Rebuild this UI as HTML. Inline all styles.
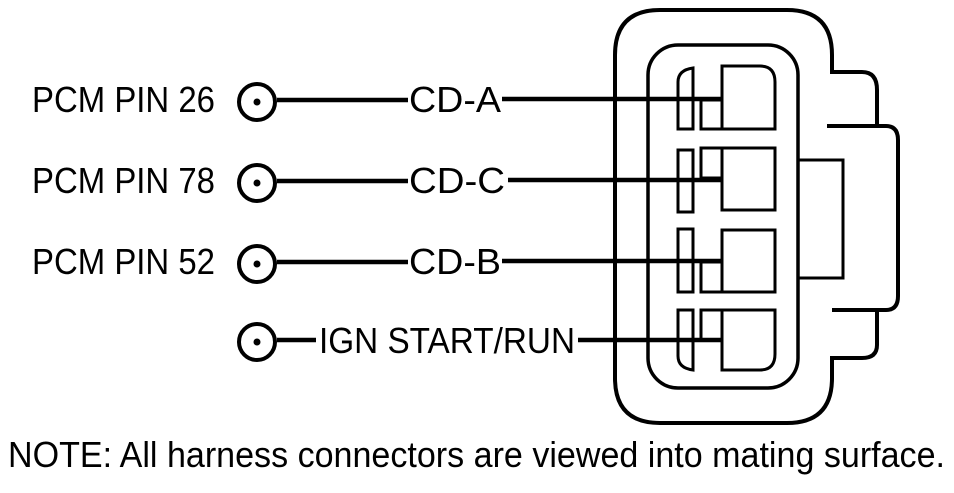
<!DOCTYPE html>
<html><head><meta charset="utf-8"><style>html,body{margin:0;padding:0;background:#fff}svg{display:block}</style></head>
<body>
<svg width="954" height="493" viewBox="0 0 954 493" xmlns="http://www.w3.org/2000/svg" font-family="Liberation Sans, Arial, sans-serif" fill="none" stroke="#000">
<path d="M660,10 H787 Q832,10 832,55 V72 H862 Q877,72 877,90 V126 H886 Q898,126 898,140 V296 Q898,310 886,310 H877 V345 Q877,358 862,358 H832 V378 Q832,423 787,423 H660 Q615,423 615,378 V55 Q615,10 660,10 Z" stroke-width="4"/>
<line x1="827" y1="126" x2="880" y2="126" stroke-width="4"/>
<line x1="832" y1="310" x2="880" y2="310" stroke-width="4"/>
<rect x="648" y="45" width="150" height="343" rx="30" stroke-width="3.5"/>
<path d="M798,160 H843 V278 H798" stroke-width="3"/>
<g stroke-width="3">
<path d="M722,129 V66 H760 Q775,66 775,82 V129 Z"/>
<rect x="722" y="148" width="53" height="62"/>
<rect x="722" y="230" width="53" height="62"/>
<path d="M722,310 H775 V354 Q775,370 760,370 H722 Z"/>
<path d="M693,68 V129 H678 V82 Q678,70 693,68 Z"/>
<rect x="678" y="150" width="15" height="62"/>
<rect x="678" y="229" width="15" height="63"/>
<path d="M678,310 H693 V370 Q678,368 678,356 Z"/>
<rect x="701" y="100" width="21" height="29"/>
<rect x="701" y="148" width="21" height="30"/>
<rect x="701" y="262" width="21" height="30"/>
<rect x="701" y="310" width="21" height="30"/>
</g>
<g stroke-width="4.5">
<line x1="277" y1="100" x2="408" y2="100"/><line x1="502" y1="99" x2="722" y2="99"/>
<line x1="277" y1="181" x2="408" y2="181"/><line x1="508" y1="180" x2="722" y2="180"/>
<line x1="277" y1="262" x2="408" y2="262"/><line x1="502" y1="261" x2="722" y2="261"/>
<line x1="277" y1="340" x2="316" y2="340"/><line x1="578" y1="340" x2="722" y2="340"/>
</g>
<g stroke-width="4">
<circle cx="257" cy="102" r="18"/><circle cx="257" cy="183" r="18"/><circle cx="257" cy="264" r="18"/><circle cx="257" cy="342" r="18"/>
</g>
<g fill="#000" stroke="none">
<circle cx="257" cy="102" r="3.5"/><circle cx="257" cy="183" r="3.5"/><circle cx="257" cy="264" r="3.5"/><circle cx="257" cy="342" r="3.5"/>
</g>
<g fill="#000" stroke="none" font-size="36">
<text x="32" y="112" textLength="183" lengthAdjust="spacingAndGlyphs">PCM PIN 26</text>
<text x="32" y="193" textLength="183" lengthAdjust="spacingAndGlyphs">PCM PIN 78</text>
<text x="32" y="274" textLength="183" lengthAdjust="spacingAndGlyphs">PCM PIN 52</text>
<text x="409" y="112" textLength="92" lengthAdjust="spacingAndGlyphs">CD-A</text>
<text x="409" y="193" textLength="96" lengthAdjust="spacingAndGlyphs">CD-C</text>
<text x="409" y="274" textLength="92" lengthAdjust="spacingAndGlyphs">CD-B</text>
<text x="319" y="353" textLength="256" lengthAdjust="spacingAndGlyphs">IGN START/RUN</text>
<text x="8" y="467" font-size="36" textLength="937" lengthAdjust="spacingAndGlyphs">NOTE: All harness connectors are viewed into mating surface.</text>
</g>
</svg>
</body></html>
